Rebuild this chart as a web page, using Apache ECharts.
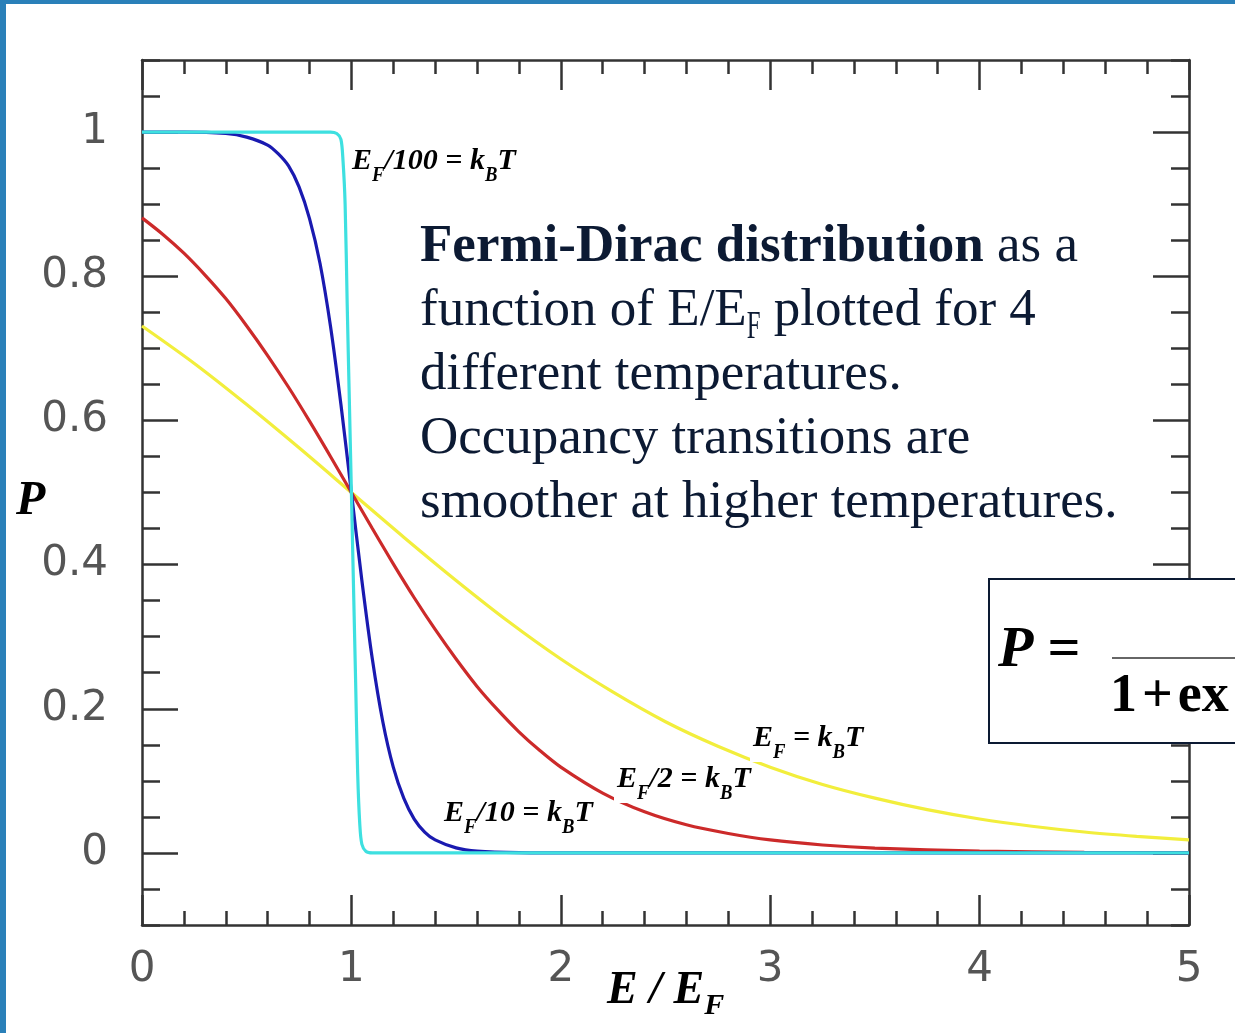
<!DOCTYPE html>
<html>
<head>
<meta charset="utf-8">
<script src="https://cdn.jsdelivr.net/npm/echarts@6/dist/echarts.min.js"></script>
<style>
html, body { margin: 0; padding: 0; background: #fff; }
#main { width: 1235px; height: 1033px; }
</style>
</head>
<body>
<div id="main"></div>
<script>
// 读图估计的数据 (x = E/E_F, y = P)
var cyanData = [[0, 1], [0.5, 1], [0.9, 1], [0.93, 0.998], [0.95, 0.99], [0.96, 0.96], [0.97, 0.9],
    [0.98, 0.76], [0.99, 0.63], [1.0, 0.5], [1.01, 0.37], [1.02, 0.24], [1.03, 0.11], [1.04, 0.04],
    [1.05, 0.012], [1.07, 0.002], [1.1, 0], [2, 0], [5, 0]];
var blueData = [[0, 1], [0.2, 1], [0.4, 0.998], [0.5, 0.993], [0.6, 0.982], [0.65, 0.97], [0.7, 0.953],
    [0.75, 0.924], [0.8, 0.88], [0.85, 0.818], [0.9, 0.731], [0.95, 0.622], [1.0, 0.5], [1.05, 0.378],
    [1.1, 0.269], [1.15, 0.182], [1.2, 0.119], [1.25, 0.076], [1.3, 0.047], [1.35, 0.029], [1.4, 0.018],
    [1.5, 0.007], [1.6, 0.0025], [1.8, 0.0003], [2, 0], [5, 0]];
var redData = [[0, 0.881], [0.1, 0.858], [0.2, 0.832], [0.3, 0.802], [0.4, 0.769], [0.5, 0.731],
    [0.6, 0.69], [0.7, 0.646], [0.8, 0.599], [0.9, 0.55], [1, 0.5], [1.1, 0.45], [1.2, 0.401],
    [1.3, 0.354], [1.4, 0.31], [1.5, 0.269], [1.6, 0.231], [1.7, 0.198], [1.8, 0.168], [1.9, 0.142],
    [2, 0.119], [2.2, 0.083], [2.4, 0.057], [2.6, 0.039], [2.8, 0.027], [3, 0.018], [3.25, 0.011],
    [3.5, 0.0067], [4, 0.0025], [4.5, 0.0009], [5, 0.0003]];
var yellowData = [[0, 0.731], [0.25, 0.679], [0.5, 0.622], [0.75, 0.562], [1, 0.5], [1.25, 0.438],
    [1.5, 0.378], [1.75, 0.321], [2, 0.269], [2.25, 0.223], [2.5, 0.182], [2.75, 0.148], [3, 0.119],
    [3.25, 0.095], [3.5, 0.076], [3.75, 0.06], [4, 0.047], [4.25, 0.037], [4.5, 0.029], [4.75, 0.023],
    [5, 0.018]];
var yLabelValues = [0, 0.2, 0.4, 0.6, 0.8, 1];
var yMajorTicks = [0, 0.2, 0.4, 0.6, 0.8, 1];

var axisColor = '#333';
var serif = '"Liberation Serif", "Times New Roman", serif';
var navy = '#0c1a33';
var labelFont = { fontSize: 42, color: '#555', fontFamily: '"DejaVu Sans", sans-serif', fontWeight: 'normal' };

function xAx(pos, showLabel) {
    return {
        type: 'value', position: pos, min: 0, max: 5, interval: 1,
        axisLine: { show: true, onZero: false, lineStyle: { color: axisColor, width: 2.5 } },
        axisTick: { show: true, inside: true, length: 30, lineStyle: { color: axisColor, width: 2.5 } },
        minorTick: { show: true, splitNumber: 5, length: 14, lineStyle: { color: axisColor, width: 2.5 } },
        axisLabel: Object.assign({ show: showLabel, margin: 24 }, labelFont),
        splitLine: { show: false }, minorSplitLine: { show: false }
    };
}
function yMinor(pos, showLabel) {
    return {
        type: 'value', position: pos, min: -0.1, max: 1.1, interval: 0.05,
        axisLine: { show: true, onZero: false, lineStyle: { color: axisColor, width: 2.5 } },
        axisTick: { show: true, inside: true, length: 18, lineStyle: { color: axisColor, width: 2.5 } },
        axisLabel: Object.assign({
            show: showLabel, customValues: yLabelValues, margin: 34,
            formatter: function (v) { return String(Math.round(v * 10) / 10); }
        }, labelFont),
        splitLine: { show: false }
    };
}
function yMajor(pos) {
    return {
        type: 'value', position: pos, min: -0.1, max: 1.1,
        axisLine: { show: false, onZero: false },
        axisTick: { show: true, inside: true, length: 36, customValues: yMajorTicks, lineStyle: { color: axisColor, width: 2.5 } },
        axisLabel: { show: false },
        splitLine: { show: false }
    };
}
function curve(name, color, data) {
    return {
        name: name, type: 'line', data: data, showSymbol: false, smooth: 0.3,
        xAxisIndex: 0, yAxisIndex: 0,
        lineStyle: { color: color, width: 3.2 }, itemStyle: { color: color }
    };
}

// 带下标的文字: 逐段测宽再排
var mctx = document.createElement('canvas').getContext('2d');
function run(x, base, parts, z, fill) {
    var els = [], cx = x;
    parts.forEach(function (p) {
        var font = (p.style || '') + ' ' + p.size + 'px ' + serif;
        var sx = p.sx || 1;
        mctx.font = font;
        var w = mctx.measureText(p.t).width * sx;
        els.push({
            type: 'text', x: cx, y: base + (p.dy || 0) - 0.3 * p.size, z: z, scaleX: sx,
            style: { text: p.t, font: font, fill: fill || '#000', verticalAlign: 'middle', align: 'left' }
        });
        cx += w;
    });
    return { els: els, width: cx - x };
}
function M(t) { return { t: t, size: 30, style: 'italic bold' }; }
function S(t) { return { t: t, size: 22, style: 'italic bold', dy: 12, sx: 0.85 }; }
function curveLabel(x, base, parts) {
    var r = run(x, base, parts, 51);
    return [{ type: 'rect', z: 50, shape: { x: x - 3, y: base - 25, width: r.width + 6, height: 40 }, style: { fill: '#fff' } }].concat(r.els);
}
function N(t) { return { t: t, size: 53 }; }

var graphics = [
    // 外框
    { type: 'rect', left: 0, top: 0, shape: { width: 1235, height: 4 }, style: { fill: '#2a80b9' } },
    { type: 'rect', left: 0, top: 0, shape: { width: 6, height: 1033 }, style: { fill: '#2a80b9' } },
    // 坐标轴名称 P
    { type: 'text', left: 16, top: 478, style: { text: 'P', font: 'italic bold 48px ' + serif, fill: '#000' } },
    // 公式框
    { type: 'rect', left: 988, top: 578, z: 100, shape: { width: 270, height: 164 }, style: { fill: '#fff', stroke: navy, lineWidth: 2 } },
    {
        type: 'text', left: 998, top: 622, z: 101,
        style: { text: '{p|P}{e|=}', rich: {
            p: { fontFamily: serif, fontStyle: 'italic', fontWeight: 'bold', fontSize: 58, fill: '#000', padding: [0, 14, 0, 0] },
            e: { fontFamily: serif, fontWeight: 'bold', fontSize: 58, fill: '#000' }
        } }
    },
    { type: 'line', z: 101, shape: { x1: 1112, y1: 658, x2: 1240, y2: 658 }, style: { stroke: '#333', lineWidth: 1.5 } },
    {
        type: 'text', left: 1110, top: 670, z: 101,
        style: { text: '{a|1}{b|+}{a|ex}', rich: {
            a: { fontFamily: serif, fontWeight: 'bold', fontSize: 54, fill: '#000' },
            b: { fontFamily: serif, fontWeight: 'bold', fontSize: 54, fill: '#000', padding: [0, 5, 0, 5] }
        } }
    }
];
graphics = graphics
    .concat(curveLabel(352, 170, [M('E'), S('F'), M('/100 = k'), S('B'), M('T')]))
    .concat(curveLabel(444, 822, [M('E'), S('F'), M('/10 = k'), S('B'), M('T')]))
    .concat(curveLabel(617, 788, [M('E'), S('F'), M('/2 = k'), S('B'), M('T')]))
    .concat(curveLabel(753, 747, [M('E'), S('F'), M(' = k'), S('B'), M('T')]))
    .concat(run(607, 1005, [{ t: 'E / E', size: 46, style: 'italic bold' }, { t: 'F', size: 30, style: 'italic bold', dy: 10 }], 10).els)
    // 说明文字
    .concat(run(420, 263, [{ t: 'Fermi-Dirac distribution', size: 53, style: 'bold' }, N(' as a')], 10, navy).els)
    .concat(run(420, 327, [N('function of E/E'), { t: 'F', size: 40, sx: 0.62, dy: 12 }, N(' plotted for 4')], 10, navy).els)
    .concat(run(420, 391, [N('different temperatures.')], 10, navy).els)
    .concat(run(420, 455, [N('Occupancy transitions are')], 10, navy).els)
    .concat(run(420, 519, [N('smoother at higher temperatures.')], 10, navy).els);

var echart = echarts.init(document.getElementById('main'));
var option = {
    backgroundColor: '#fff',
    animation: false,
    grid: { left: 142, right: 46, top: 60, bottom: 108 },
    xAxis: [xAx('bottom', true), xAx('top', false)],
    yAxis: [yMinor('left', true), yMajor('left'), yMinor('right', false), yMajor('right')],
    series: [
        curve('EF = kBT', '#f2ee3c', yellowData),
        curve('EF/2 = kBT', '#cc2a2a', redData),
        curve('EF/10 = kBT', '#1a1ab0', blueData),
        curve('EF/100 = kBT', '#3ee0e0', cyanData)
    ],
    graphic: graphics
};
echart.setOption(option);
</script>
</body>
</html>
